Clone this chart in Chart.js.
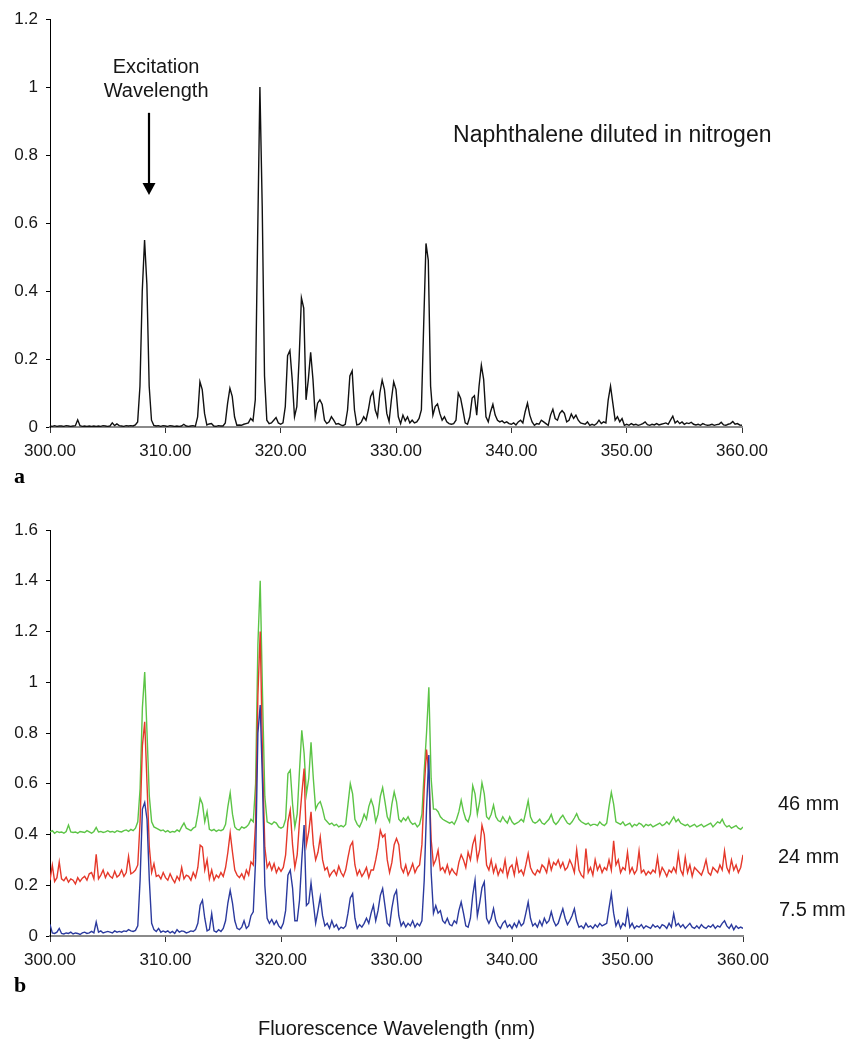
<!DOCTYPE html>
<html>
<head>
<meta charset="utf-8">
<title>Naphthalene fluorescence spectra</title>
<script src="https://cdn.jsdelivr.net/npm/chart.js@4.4.1/dist/chart.umd.min.js"></script>
<style>
  body { margin: 0; background: #fff; width: 852px; height: 1040px; position: relative; overflow: hidden; }
  canvas { position: absolute; left: 0; }
  #spectrumA { top: 0; }
  #spectrumB { top: 490px; }
</style>
</head>
<body>
<canvas id="spectrumA" width="852" height="490"></canvas>
<canvas id="spectrumB" width="852" height="550"></canvas>
<script>
// Griglia delle lunghezze d'onda (nm), passo 0.2 nm da 300 a 360
const wlStart = 300, wlStep = 0.2, wlCount = 301;
const wavelengths = Array.from({ length: wlCount }, (_, i) => +(wlStart + i * wlStep).toFixed(1));

const xTicks = [300, 310, 320, 330, 340, 350, 360];

// (a) naftalene diluito in azoto, intensita normalizzata (una riga = 2 nm)
const naphthaleneN2 = [
  0.003,0.002,0.004,0.002,0.003,0.003,0.002,0.004,0.003,0.002, // 300
  0.003,0.004,0.021,0.004,0.002,0.003,0.002,0.003,0.002,0.003, // 302
  0.002,0.003,0.002,0.004,0.003,0.002,0.003,0.012,0.004,0.009, // 304
  0.004,0.003,0.002,0.004,0.003,0.004,0.003,0.006,0.015,0.12,  // 306
  0.4,0.55,0.42,0.12,0.02,0.005,0.003,0.004,0.002,0.004,       // 308
  0.003,0.002,0.004,0.003,0.002,0.003,0.002,0.003,0.008,0.003, // 310
  0.002,0.003,0.004,0.002,0.03,0.133,0.11,0.04,0.006,0.009,    // 312
  0.01,0.003,0.002,0.004,0.003,0.003,0.012,0.07,0.114,0.09,    // 314
  0.03,0.005,0.006,0.005,0.008,0.01,0.012,0.025,0.018,0.08,    // 316
  0.55,1.0,0.65,0.15,0.02,0.01,0.012,0.02,0.028,0.012,         // 318
  0.008,0.012,0.06,0.21,0.225,0.14,0.03,0.06,0.2,0.38,         // 320
  0.35,0.08,0.14,0.22,0.14,0.03,0.07,0.08,0.066,0.02,          // 322
  0.01,0.015,0.03,0.02,0.008,0.01,0.006,0.004,0.008,0.05,      // 324
  0.15,0.165,0.05,0.006,0.008,0.015,0.03,0.02,0.05,0.09,       // 326
  0.104,0.05,0.03,0.1,0.138,0.11,0.04,0.016,0.08,0.133,        // 328
  0.11,0.03,0.01,0.035,0.018,0.03,0.012,0.02,0.012,0.015,      // 330
  0.025,0.05,0.3,0.54,0.49,0.12,0.035,0.06,0.068,0.04,         // 332
  0.02,0.03,0.015,0.01,0.008,0.01,0.02,0.1,0.085,0.05,         // 334
  0.012,0.008,0.03,0.085,0.092,0.035,0.12,0.182,0.14,0.03,     // 336
  0.015,0.045,0.067,0.035,0.02,0.015,0.018,0.012,0.015,0.01,   // 338
  0.008,0.012,0.006,0.015,0.02,0.012,0.045,0.07,0.035,0.015,   // 340
  0.005,0.01,0.008,0.02,0.015,0.01,0.005,0.035,0.052,0.025,    // 342
  0.02,0.04,0.048,0.04,0.015,0.02,0.038,0.025,0.035,0.02,      // 344
  0.012,0.01,0.008,0.015,0.005,0.008,0.005,0.01,0.02,0.01,     // 346
  0.015,0.012,0.08,0.12,0.07,0.02,0.03,0.015,0.025,0.005,      // 348
  0.008,0.005,0.01,0.006,0.008,0.005,0.007,0.01,0.015,0.007,   // 350
  0.005,0.008,0.006,0.01,0.006,0.008,0.01,0.012,0.008,0.02,    // 352
  0.032,0.012,0.018,0.01,0.015,0.008,0.012,0.01,0.014,0.008,   // 354
  0.006,0.008,0.005,0.01,0.007,0.005,0.006,0.008,0.005,0.007,  // 356
  0.008,0.014,0.006,0.005,0.008,0.01,0.016,0.008,0.01,0.006,   // 358
  0.005                                                        // 360
];

// (b) spettri a diverse distanze (curve gia traslate in verticale)
const dist46mm = [
  0.41,0.415,0.405,0.412,0.408,0.41,0.405,0.412,0.437,0.41,    // 300
  0.408,0.41,0.405,0.412,0.41,0.408,0.415,0.41,0.405,0.412,    // 302
  0.428,0.41,0.412,0.408,0.41,0.415,0.41,0.412,0.408,0.415,    // 304
  0.412,0.41,0.415,0.418,0.412,0.42,0.415,0.425,0.45,0.58,     // 306
  0.9,1.04,0.8,0.55,0.45,0.43,0.425,0.42,0.415,0.418,          // 308
  0.41,0.415,0.408,0.412,0.41,0.418,0.412,0.43,0.445,0.425,    // 310
  0.42,0.415,0.425,0.43,0.48,0.542,0.52,0.45,0.49,0.42,        // 312
  0.415,0.42,0.412,0.418,0.415,0.42,0.44,0.51,0.564,0.48,      // 314
  0.43,0.42,0.418,0.43,0.425,0.43,0.44,0.46,0.45,0.6,          // 316
  1.15,1.4,0.95,0.55,0.45,0.445,0.44,0.45,0.445,0.43,          // 318
  0.425,0.43,0.46,0.64,0.654,0.52,0.43,0.48,0.65,0.811,        // 320
  0.72,0.56,0.62,0.763,0.62,0.5,0.52,0.53,0.5,0.46,            // 322
  0.45,0.44,0.445,0.435,0.44,0.43,0.435,0.43,0.44,0.52,        // 324
  0.6,0.56,0.46,0.44,0.43,0.45,0.48,0.46,0.51,0.538,           // 326
  0.51,0.45,0.48,0.55,0.585,0.53,0.47,0.45,0.52,0.568,         // 328
  0.53,0.46,0.45,0.465,0.455,0.47,0.45,0.44,0.445,0.43,        // 330
  0.44,0.48,0.65,0.8,0.98,0.62,0.5,0.5,0.49,0.47,              // 332
  0.46,0.455,0.45,0.445,0.45,0.44,0.46,0.49,0.535,0.49,        // 334
  0.46,0.45,0.48,0.592,0.56,0.48,0.53,0.604,0.56,0.47,         // 336
  0.46,0.48,0.516,0.47,0.455,0.45,0.47,0.455,0.445,0.47,       // 338
  0.45,0.44,0.445,0.45,0.46,0.45,0.49,0.533,0.47,0.45,         // 340
  0.445,0.45,0.46,0.445,0.44,0.45,0.46,0.479,0.45,0.44,        // 342
  0.45,0.465,0.476,0.46,0.445,0.44,0.45,0.465,0.482,0.46,      // 344
  0.45,0.445,0.44,0.445,0.435,0.44,0.44,0.435,0.45,0.44,       // 346
  0.435,0.445,0.51,0.566,0.52,0.45,0.445,0.44,0.45,0.435,      // 348
  0.44,0.445,0.43,0.44,0.435,0.445,0.44,0.43,0.44,0.435,       // 350
  0.44,0.43,0.435,0.44,0.445,0.435,0.44,0.45,0.44,0.455,       // 352
  0.469,0.45,0.46,0.445,0.44,0.435,0.44,0.43,0.435,0.44,       // 354
  0.43,0.435,0.44,0.43,0.435,0.44,0.445,0.43,0.44,0.45,        // 356
  0.445,0.46,0.44,0.43,0.435,0.425,0.43,0.435,0.425,0.42,      // 358
  0.43                                                         // 360
];

const dist24mm = [
  0.22,0.279,0.215,0.23,0.292,0.225,0.218,0.232,0.212,0.225,   // 300
  0.22,0.205,0.23,0.215,0.228,0.235,0.22,0.245,0.25,0.225,     // 302
  0.322,0.225,0.24,0.26,0.23,0.25,0.235,0.228,0.255,0.232,     // 304
  0.24,0.26,0.235,0.25,0.314,0.245,0.25,0.26,0.28,0.45,        // 306
  0.75,0.844,0.6,0.35,0.25,0.285,0.235,0.24,0.225,0.25,        // 308
  0.23,0.22,0.245,0.225,0.21,0.235,0.22,0.27,0.225,0.24,       // 310
  0.235,0.22,0.25,0.23,0.27,0.358,0.35,0.26,0.3,0.225,         // 312
  0.26,0.22,0.24,0.23,0.25,0.235,0.27,0.33,0.406,0.33,         // 314
  0.26,0.24,0.23,0.245,0.225,0.26,0.24,0.292,0.28,0.45,        // 316
  0.95,1.2,0.7,0.35,0.27,0.29,0.26,0.285,0.25,0.27,            // 318
  0.255,0.27,0.32,0.45,0.496,0.36,0.27,0.32,0.45,0.56,         // 320
  0.66,0.36,0.41,0.489,0.36,0.3,0.33,0.39,0.3,0.26,            // 322
  0.27,0.235,0.25,0.26,0.24,0.275,0.25,0.235,0.26,0.31,        // 324
  0.355,0.371,0.28,0.24,0.26,0.235,0.25,0.27,0.23,0.26,        // 326
  0.26,0.3,0.35,0.417,0.39,0.4,0.3,0.25,0.29,0.36,             // 328
  0.384,0.36,0.27,0.25,0.28,0.24,0.26,0.285,0.25,0.27,         // 330
  0.28,0.36,0.58,0.735,0.64,0.38,0.28,0.3,0.338,0.26,          // 332
  0.27,0.25,0.28,0.245,0.265,0.25,0.24,0.29,0.32,0.3,          // 334
  0.27,0.33,0.3,0.36,0.39,0.3,0.34,0.437,0.4,0.28,             // 336
  0.26,0.3,0.25,0.28,0.24,0.265,0.25,0.3,0.235,0.27,           // 338
  0.28,0.24,0.3,0.25,0.26,0.24,0.28,0.325,0.27,0.25,           // 340
  0.24,0.26,0.25,0.28,0.27,0.25,0.3,0.26,0.29,0.28,            // 342
  0.3,0.27,0.29,0.26,0.27,0.3,0.28,0.25,0.34,0.26,             // 344
  0.24,0.23,0.345,0.25,0.27,0.24,0.3,0.26,0.28,0.25,           // 346
  0.27,0.26,0.3,0.26,0.375,0.28,0.3,0.25,0.27,0.26,            // 348
  0.33,0.25,0.27,0.245,0.26,0.335,0.25,0.26,0.24,0.255,        // 350
  0.245,0.26,0.25,0.31,0.24,0.27,0.255,0.235,0.26,0.25,        // 352
  0.27,0.25,0.325,0.26,0.24,0.31,0.25,0.28,0.235,0.27,         // 354
  0.26,0.25,0.24,0.265,0.3,0.25,0.24,0.27,0.26,0.25,           // 356
  0.28,0.26,0.335,0.27,0.25,0.3,0.26,0.28,0.25,0.27,           // 358
  0.32                                                         // 360
];

const dist7p5mm = [
  0.046,0.012,0.01,0.015,0.03,0.01,0.008,0.012,0.01,0.015,     // 300
  0.008,0.012,0.01,0.006,0.012,0.015,0.01,0.012,0.018,0.012,   // 302
  0.055,0.015,0.02,0.012,0.015,0.018,0.015,0.012,0.02,0.015,   // 304
  0.018,0.015,0.02,0.018,0.025,0.02,0.018,0.022,0.04,0.22,     // 306
  0.5,0.526,0.46,0.22,0.05,0.025,0.018,0.03,0.015,0.02,        // 308
  0.015,0.02,0.012,0.018,0.01,0.025,0.015,0.02,0.018,0.012,    // 310
  0.015,0.02,0.018,0.025,0.05,0.121,0.141,0.07,0.02,0.025,     // 312
  0.088,0.02,0.015,0.025,0.018,0.03,0.06,0.13,0.18,0.13,       // 314
  0.06,0.03,0.025,0.035,0.06,0.03,0.04,0.08,0.095,0.3,         // 316
  0.8,0.91,0.6,0.2,0.07,0.05,0.065,0.045,0.06,0.04,            // 318
  0.03,0.05,0.1,0.24,0.259,0.19,0.06,0.06,0.14,0.3,            // 320
  0.437,0.12,0.13,0.209,0.13,0.05,0.1,0.154,0.08,0.04,         // 322
  0.05,0.03,0.06,0.035,0.045,0.025,0.035,0.03,0.04,0.09,       // 324
  0.15,0.167,0.07,0.03,0.045,0.035,0.05,0.07,0.05,0.09,        // 326
  0.121,0.06,0.1,0.16,0.187,0.12,0.05,0.04,0.11,0.16,          // 328
  0.18,0.08,0.04,0.055,0.035,0.05,0.04,0.06,0.035,0.05,        // 330
  0.04,0.06,0.22,0.5,0.713,0.25,0.09,0.12,0.09,0.1,            // 332
  0.06,0.05,0.07,0.045,0.04,0.06,0.05,0.1,0.134,0.09,          // 334
  0.04,0.035,0.07,0.16,0.22,0.08,0.13,0.19,0.213,0.07,         // 336
  0.05,0.07,0.108,0.06,0.04,0.03,0.05,0.06,0.035,0.045,        // 338
  0.03,0.05,0.035,0.06,0.04,0.05,0.09,0.134,0.07,0.04,         // 340
  0.05,0.035,0.06,0.04,0.07,0.05,0.06,0.095,0.06,0.04,         // 342
  0.05,0.08,0.107,0.07,0.045,0.06,0.08,0.107,0.06,0.035,       // 344
  0.04,0.03,0.05,0.035,0.04,0.03,0.045,0.035,0.05,0.04,        // 346
  0.045,0.05,0.11,0.167,0.09,0.04,0.06,0.03,0.05,0.04,         // 348
  0.1,0.035,0.05,0.03,0.04,0.035,0.045,0.03,0.04,0.035,        // 350
  0.03,0.045,0.035,0.04,0.03,0.045,0.04,0.03,0.05,0.035,       // 352
  0.088,0.04,0.05,0.035,0.045,0.03,0.04,0.05,0.035,0.03,       // 354
  0.04,0.03,0.045,0.035,0.03,0.04,0.035,0.045,0.03,0.04,       // 356
  0.035,0.05,0.06,0.04,0.03,0.045,0.025,0.04,0.03,0.035,       // 358
  0.03                                                         // 360
];

const TEXT = '#161616';
const SANS = '"Liberation Sans", Arial, Helvetica, sans-serif';
const SERIF = '"Liberation Serif", "Times New Roman", serif';

// Scritte, freccia e lettera del pannello disegnate sopra al grafico
const figureText = {
  id: 'figureText',
  afterDraw(chart, args, opts) {
    const ctx = chart.ctx;
    const sx = chart.scales.x, sy = chart.scales.y;
    ctx.save();
    ctx.fillStyle = TEXT;
    ctx.textBaseline = 'alphabetic';
    (opts.labels || []).forEach(l => {
      ctx.font = l.font;
      ctx.textAlign = l.align || 'left';
      const px = l.px !== undefined ? chart.chartArea.right + l.px : sx.getPixelForValue(l.x);
      const py = l.py !== undefined ? l.py : sy.getPixelForValue(l.y);
      ctx.fillText(l.text, px, py);
    });
    if (opts.arrow) {
      const a = opts.arrow;
      const ax = Math.round(sx.getPixelForValue(a.x));
      const y0 = sy.getPixelForValue(a.from), y1 = sy.getPixelForValue(a.to);
      ctx.strokeStyle = '#000';
      ctx.lineWidth = 2.2;
      ctx.beginPath();
      ctx.moveTo(ax, y0);
      ctx.lineTo(ax, y1 - 10);
      ctx.stroke();
      ctx.fillStyle = '#000';
      ctx.beginPath();
      ctx.moveTo(ax - 6.5, y1 - 12);
      ctx.lineTo(ax + 6.5, y1 - 12);
      ctx.lineTo(ax, y1);
      ctx.closePath();
      ctx.fill();
    }
    if (opts.panel) {
      ctx.fillStyle = '#000';
      ctx.font = 'bold 22px ' + SERIF;
      ctx.textAlign = 'left';
      ctx.fillText(opts.panel.text, opts.panel.px, opts.panel.py);
    }
    if (opts.axisTitle) {
      ctx.fillStyle = TEXT;
      ctx.font = '20px ' + SANS;
      ctx.textAlign = 'center';
      const ca = chart.chartArea;
      ctx.fillText(opts.axisTitle.text, (ca.left + ca.right) / 2, opts.axisTitle.py);
    }
    ctx.restore();
  }
};

function spectrumOptions(yMax, xAxisHeight, padTop, padRight, textOpts) {
  return {
    responsive: false,
    animation: false,
    events: [],
    layout: { padding: { top: padTop, right: padRight, left: 0, bottom: 0 } },
    elements: { point: { radius: 0 }, line: { tension: 0, borderWidth: 1.4 } },
    plugins: { legend: { display: false }, tooltip: { enabled: false }, figureText: textOpts },
    scales: {
      x: {
        type: 'linear',
        min: 300,
        max: 360,
        afterBuildTicks: s => { s.ticks = xTicks.map(v => ({ value: v })); },
        afterFit: s => { s.height = xAxisHeight; },
        border: { display: true, color: '#8a8a8a', width: 2 },
        grid: { drawOnChartArea: false, drawTicks: true, tickLength: 6, color: '#333' },
        ticks: {
          color: TEXT,
          padding: 8,
          maxRotation: 0,
          font: { family: SANS, size: 17 },
          callback: v => Number(v).toFixed(2)
        }
      },
      y: {
        min: 0,
        max: yMax,
        afterFit: s => { s.width = 50; },
        border: { display: true, color: '#000', width: 1 },
        grid: { drawOnChartArea: false, drawTicks: true, tickLength: 4, color: '#000' },
        ticks: {
          stepSize: 0.2,
          color: TEXT,
          padding: 8,
          font: { family: SANS, size: 17 },
          callback: v => String(Math.round(v * 10) / 10)
        }
      }
    }
  };
}

// Pannello a
new Chart(document.getElementById('spectrumA'), {
  type: 'line',
  data: {
    labels: wavelengths,
    datasets: [{ label: 'Naphthalene / N2', data: naphthaleneN2, borderColor: '#111' }]
  },
  options: spectrumOptions(1.2, 63, 19, 110, {
    labels: [
      { text: 'Excitation', x: 309.2, y: 1.041, align: 'center', font: '20px ' + SANS },
      { text: 'Wavelength', x: 309.2, y: 0.971, align: 'center', font: '20px ' + SANS },
      { text: 'Naphthalene diluted in nitrogen', x: 334.95, y: 0.839, align: 'left', font: '23px ' + SANS }
    ],
    arrow: { x: 308.6, from: 0.924, to: 0.682 },
    panel: { text: 'a', px: 14, py: 483 }
  }),
  plugins: [figureText]
});

// Pannello b (la prima serie viene disegnata sopra le altre)
new Chart(document.getElementById('spectrumB'), {
  type: 'line',
  data: {
    labels: wavelengths,
    datasets: [
      { label: '7.5 mm', data: dist7p5mm, borderColor: '#2b3a9e' },
      { label: '24 mm', data: dist24mm, borderColor: '#e5382a' },
      { label: '46 mm', data: dist46mm, borderColor: '#5cc446' }
    ]
  },
  options: spectrumOptions(1.6, 104, 40, 109, {
    labels: [
      { text: '46 mm', px: 35, y: 0.496, font: '20px ' + SANS },
      { text: '24 mm', px: 35, y: 0.288, font: '20px ' + SANS },
      { text: '7.5 mm', px: 36, y: 0.078, font: '20px ' + SANS }
    ],
    panel: { text: 'b', px: 14, py: 502 },
    axisTitle: { text: 'Fluorescence Wavelength (nm)', py: 545 }
  }),
  plugins: [figureText]
});
</script>
</body>
</html>
